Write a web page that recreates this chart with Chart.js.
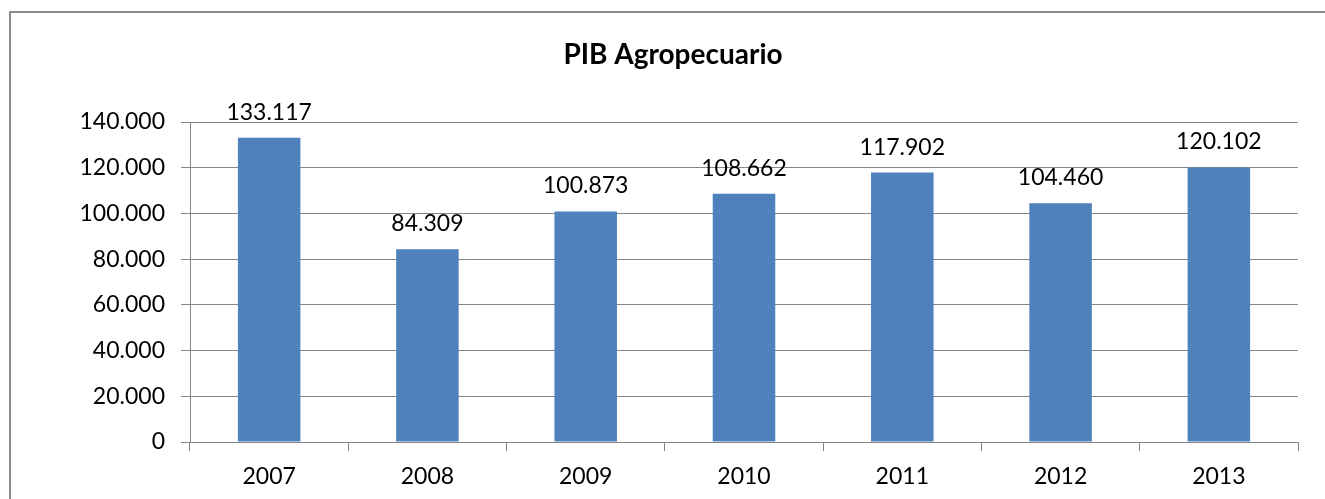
<!DOCTYPE html>
<html>
<head>
<meta charset="utf-8">
<script src="https://cdn.jsdelivr.net/npm/chart.js@4/dist/chart.umd.min.js"></script>
<style>
  html, body { margin: 0; padding: 0; background: #fff; }
  #wrap { width: 1325px; height: 499px; }
</style>
</head>
<body>
<div id="wrap"><canvas id="pib"></canvas></div>
<script>
var years = ["2007", "2008", "2009", "2010", "2011", "2012", "2013"];
var pibValues = [133117, 84309, 100873, 108662, 117902, 104460, 120102];
var yTicks = [0, 20000, 40000, 60000, 80000, 100000, 120000, 140000];
var chartTitle = "PIB Agropecuario";

function fmt(v) {
  // separador de miles con punto
  return String(v).replace(/\B(?=(\d{3})+(?!\d))/g, ".");
}

var fontFamily = "Lato, 'Open Sans', sans-serif";

// marco gris y titulo del grafico
var framePlugin = {
  id: 'frame',
  beforeDraw: function (chart) {
    var c = chart.ctx;
    c.save();
    c.strokeStyle = '#8c8c8c';
    c.lineWidth = 2;
    c.strokeRect(10, 12, 2000, 2000);
    c.font = "bold 28px " + fontFamily;
    c.fillStyle = '#000';
    c.textAlign = 'center';
    c.textBaseline = 'middle';
    c.fillText(chartTitle, 673, 55);
    c.restore();
  }
};

// etiquetas de valor encima de cada barra
var valueLabels = {
  id: 'valueLabels',
  afterDatasetsDraw: function (chart) {
    var c = chart.ctx;
    var meta = chart.getDatasetMeta(0);
    c.save();
    c.font = "23px " + fontFamily;
    c.fillStyle = '#000';
    c.textAlign = 'center';
    c.textBaseline = 'alphabetic';
    meta.data.forEach(function (bar, i) {
      c.fillText(fmt(chart.data.datasets[0].data[i]), bar.x, bar.y - 18);
    });
    c.restore();
  }
};

var ctx = document.getElementById('pib').getContext('2d');
window.pibChart = new Chart(ctx, {
  type: 'bar',
  data: {
    labels: years,
    datasets: [{
      label: chartTitle,
      backgroundColor: '#4F81BD',
      borderWidth: 0,
      data: pibValues,
      barPercentage: 0.395,
      categoryPercentage: 1
    }]
  },
  options: {
    responsive: true,
    maintainAspectRatio: false,
    animation: false,
    layout: {
      padding: { top: 122, right: 27, left: 0, bottom: 0 }
    },
    plugins: {
      legend: { display: false },
      tooltip: { enabled: false },
      title: { display: false }
    },
    scales: {
      x: {
        grid: {
          display: true,
          offset: true,
          drawOnChartArea: false,
          color: '#868686',
          tickLength: 9
        },
        border: { color: '#868686', width: 1 },
        ticks: {
          color: '#000',
          font: { family: fontFamily, size: 23 },
          padding: 12
        },
        afterFit: function (scale) { scale.height = 57; }
      },
      y: {
        min: 0,
        max: 140000,
        afterBuildTicks: function (scale) {
          scale.ticks = yTicks.map(function (v) { return { value: v }; });
        },
        grid: {
          color: '#868686',
          tickLength: 9
        },
        border: { color: '#868686', width: 1 },
        ticks: {
          color: '#000',
          font: { family: fontFamily, size: 23 },
          padding: 16,
          callback: function (v) { return fmt(v); }
        },
        afterFit: function (scale) { scale.width = 190; }
      }
    }
  },
  plugins: [framePlugin, valueLabels]
});
</script>
</body>
</html>
